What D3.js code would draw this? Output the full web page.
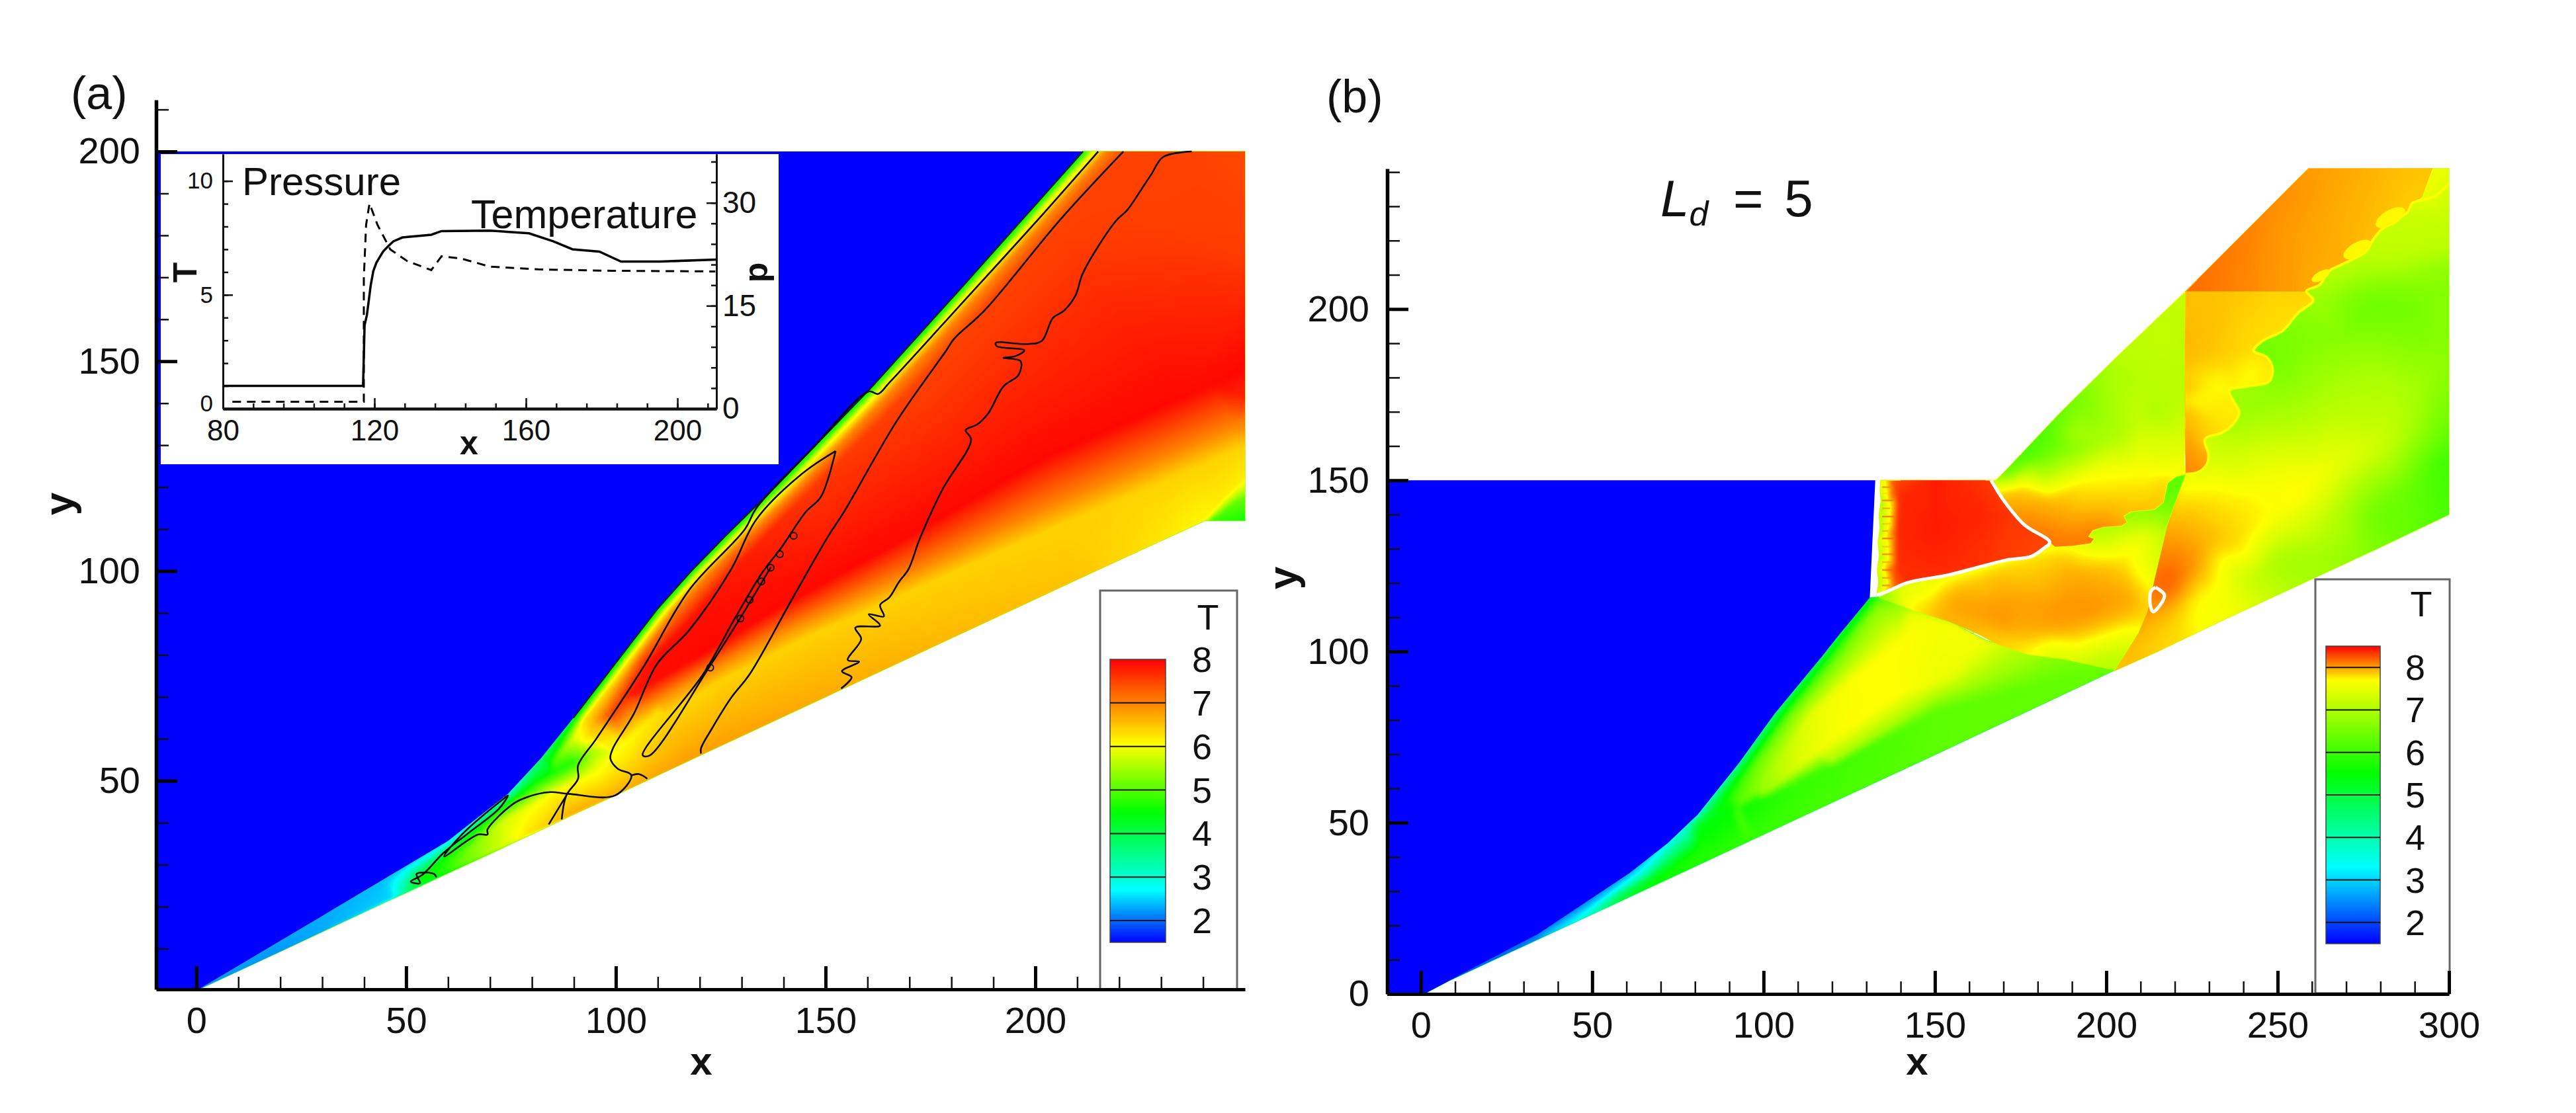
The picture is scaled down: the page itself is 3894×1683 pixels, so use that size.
<!DOCTYPE html>
<html>
<head>
<meta charset="utf-8">
<script src="https://cdn.jsdelivr.net/npm/d3@7"></script>
<style>
  html, body { margin: 0; padding: 0; background: #fff; }
  svg { display: block; }
  text { font-family: "Liberation Sans", Arial, sans-serif; fill: #111; }
</style>
</head>
<body>
<div id="chart"></div>
<script>
// colour legends, T level -> colour
const stopsA = [1.5, 2.7, 4.5, 6.05, 8];
const stopsB = [1.5, 3.3, 5.5, 7.7, 8.5];
const rainbow = ["#0000ff", "#00ffff", "#00ff00", "#ffff00", "#ff0000"];
const legendLevelsA = [2, 3, 4, 5, 6, 7, 8];
const legendLevelsB = [2, 3, 4, 5, 6, 7, 8];

// inset profile at the wedge surface
const insetT = [[80,1],[117,1],[117.4,3.67],[118,4.1],[118.5,4.74],[119,5.4],[119.7,6.04],[120.5,6.4],[121.3,6.63],[122.3,6.9],[123.6,7.13],[125,7.35],[127.4,7.52],[135,7.64],[137.7,7.8],[150.5,7.82],[160.8,7.7],[167.2,7.35],[172.3,7],[179.4,6.9],[185.1,6.46],[195.4,6.46],[210.3,6.55]];
const insetP = [[82.5,1],[117.2,1],[117.2,19],[117.8,26.8],[118.7,29.9],[120.8,26.8],[124.2,23.2],[128.7,21.5],[135,20.2],[137.7,22.2],[142.8,21.9],[150.5,20.7],[163.3,20.3],[182.6,20.1],[210,20]];

// panel (a): x, y, T along the outline of the burnt gas region
const edgeA = [[0,0,2.2],[29.5,17.5,2.3],[59.9,35.6,2.5],[74.3,46.9,3],[82.1,55.3,3.8],[89.9,65,4.2],[101,79.4,4.3],[109.8,90.8,4.3],[118,100,4.4],[126.3,108.5,4.4],[138,120,4.4],[160.7,143.5,4.4],[183.3,168.5,4.4],[211.4,200,4.4],
  [213.9,200,6],[216.9,200,7],[221.4,200,7.5],[237,200,7.5],[250,200,7.45],[250,175,7.55],[250,150,7.95],[250,141,7.7],[250,137,7.2],[250,133,6.8],[250,130,6.4],[250,123,6.2],[250,120,5.8],[250,118,5.2],[250,112,4.6],[242,112,4.8],
  [240.4,112,6.1],[210,98,6.5],[180,84,6.6],[150,70,6.7],[120,56,6.8],[100,46.6,6.7],[90,42,6.7],[80,37.3,6.3],[70,32.6,5.6],[60,28,4.8],[50,23.3,3.6],[46,21.5,2.5],[20,9.3,2.2]];

// panel (a): lines of roughly equal T inside that region
const bandsA = [
  [[85.5,55,5],[89.5,60,5.8],[92.5,65,6.3],[103,79.4,6],[111.8,90.8,6],[120.2,100,6],[128.7,108.5,6],[140.5,120,6],[163.2,143.5,6],[185.8,168.5,6],[213.9,200,6]],
  [[93,60,6.2],[95.5,65,6.8],[105.5,79.4,7.1],[114,90.8,7],[122.5,100,7],[131.3,108.5,7],[143.5,120,7],[166.2,143.5,7],[188.8,168.5,7],[216.9,200,7]],
  [[99,66,7.5],[107.5,78,7.9],[118.5,89,7.9],[129.5,102,7.8],[145,118,7.6],[170.7,143.5,7.5],[193.3,168.5,7.5],[221.4,200,7.5]],
  [[104,71,7.9],[120,80,7.95],[138,91,7.95],[165.2,106,7.95],[201.5,126.8,7.95],[250,148,7.95]],
  [[108,68,6.9],[120,75.5,7],[139.7,86,7],[174.3,102,7],[201.5,115,7],[250,136,7]],
  [[112,66,6.35],[125,74,6.4],[147,85,6.4],[174.3,97,6.4],[201.5,109,6.4],[250,130,6.4]],
  [[62,31,5],[73,40.5,5.8],[85,47,6.1],[95,52,6],[102,59,6.05],[110,66.5,6.3]],
  [[47,22.2,2.6],[53.3,26.4,4.6],[62.2,34.4,4.6],[73.2,44,4.6],[81,49.7,4.6],[89.8,54.5,4.7],[94.3,56.9,5.5]],
  [[240.4,112,6.1],[245,117.5,6.2],[250,123,6.2]],
  [[241.5,112,5],[246,115,5],[250,118,5.2]]
];

// panel (a): solid black T contours
const contoursA = [
  [[215,200],[201.5,184.7],[183.4,164.8],[165.2,144.9],[162.5,142.2],[160.3,142.8],[147.1,129.5],[133.5,115],[130.8,110],[117.5,95.5],[106.5,77],[95.4,60.1],[91,53.7],[91,50.5],[88.2,46.5],[87.1,40.8]],
  [[88.2,46.5],[84,39.6]],
  [[221,200],[206,183.8],[187.9,162.1],[180.6,155.3],[178.8,152.6],[167,135.8],[154.4,114.1],[150.7,108.4],[141.9,93.1],[131.9,75.4],[127.5,69.8],[123,62.6],[120.3,57.7],[120.3,56.5]],
  [[152.4,128.6],[144.4,123.2],[133.5,112.3],[127.5,100.4],[117.5,85.9],[109.8,77.8],[104.2,65.8],[99.3,57.7],[98.7,55.3],[100.4,52.9],[103.7,51.3],[99.8,46.5],[88.7,46.9],[84.3,47.3],[78.8,46.1],[75.5,44.5],[69.4,38.4],[69.4,37.2],[67.1,37.2],[59.1,32],[63.3,37.2],[73.2,45.7],[74.3,46.5],[72.1,43.3],[64.4,37.2],[58.9,32.8],[53.9,27.6],[51.1,26],[53.3,25.6],[52.5,27.8],[56.7,27.8],[57.2,27]],
  [[103.7,51.3],[105.5,51.6],[107.5,50.5]],
  [[152.4,128.6],[148.9,117.7],[145.3,114.1],[139.4,105.5],[134.9,99.6],[128.6,89.1],[120.8,75.4],[106.4,56.1],[108,56],[122.2,77],[131,91],[137,101]],
  [[237.3,200],[230.5,198.7],[227.7,194.6],[225.9,191.9],[221.9,186],[219.1,183.3],[211.4,171.1],[209.6,165.7],[206.9,162.1],[204.2,160.3],[201.5,154.8],[197.9,154.1],[190.6,154.4],[190.8,153.6],[197.4,152.6],[195.2,151.2],[192.4,150.8],[196.5,150],[196,146.7],[192.4,144],[188.8,137.6],[186.1,134.9],[183.4,133.6],[184.7,131.3],[177.9,119.5],[172.5,107.8],[169.8,100.5],[167.5,97.4],[165.2,93.7],[163,91.9],[163.9,89.2],[160.3,89.7],[163,87],[157.1,86.5],[158.5,83.8],[155.3,78.8],[158,78.4],[153.9,76.1],[156.2,74.7],[153.7,72]]
];
const eddiesA = [[122.5,77],[129.7,88.7],[131.9,93.1],[134.7,97.5],[136.9,100.8],[139.1,104],[142.4,108.4]];

// panel (b) outlines: shock, reflected shock d1, d2, slip line
const edgeConeB = [[1.5,0.3,2],[34.2,17.5,2.1],[60.9,35.3,2.6],[72.1,44.1,3.2],[80.8,52.4,3.8],[92.8,67.4,4.2],[103.2,81.8,4.5],[117,98.5,4.8],[122,104.8,5],[131,115.7,5.2],[133.8,115.9,6],[143.9,111.9,7.5],[154.2,108.7,7.65],[164.8,103.3,7.55],[177.4,99.1,6.9],[187.7,97.8,6.6],[202.5,94.6,6.4],[150,69.9,6.3],[100,46.6,6],[70,32.6,5.7],[55,25.6,4.8],[45,21,3.2],[30,14,2.4],[1.5,0.7,2.2]];
const bandsConeB = [
  [[83,52.4,4.9],[95.3,67.4,5.5],[105.7,81.8,5.7],[119.5,98.5,5.9],[130,111,6.2]],
  [[85.5,52,5.4],[97.8,67.4,6.4],[108.2,81.8,6.5],[122,98.5,6.5],[133,113,6.7]],
  [[92,54,6.3],[104,67.4,7.1],[114,81.8,7.5],[127,93,7.7],[140,103,7.7]],
  [[100,58,6.8],[112,68,7.5],[125,78,7.7],[140,88,7.7],[155,93,7.5],[162,101,7.6]],
  [[120,67,6.8],[140,80,6.9],[150,87,7],[175,95.5,6.8]],
  [[80.8,49.7,5.3],[108.4,60.8,5.9],[151.5,83,6.3],[199.7,95,6.35]],
  [[35,17.5,2.8],[50,25.5,3.3],[65,36,3.5],[75,45,4]],
  [[48,22.8,3.5],[58,28.5,5],[70,35,5.5],[80.8,42,5.7]]
];
const edgeRedB = [[134.2,150,7.4],[137,150,8.25],[150,150,8.42],[166.4,150,8.32],[170.3,143.8,8.32],[176.1,137,8.32],[183.5,131.9,8.28],[181.6,130,8.28],[178,127.7,8.28],[170.9,126.7,8.32],[164.5,125.1,8.34],[153.8,122.3,8.36],[142,120.1,8.36],[136,117.5,8.1],[133,116.5,7.3],[133.6,120,7],[133.2,124,7.2],[133.8,128,7],[133.4,132,7.3],[134,136,6.8],[133.7,140,7],[134.3,144,6.8],[134,147,7.3]];
const innerRedB = [[136,125,8],[136.3,135,7.9],[136.5,145,7.95],[138,149,8.25],[139,125,8.36],[139,135,8.38],[139.5,145,8.38],[150,135,8.42],[165,140,8.38],[170,130,8.32]];
// y, x where the streak ends, T
const streaksRedB = [[148,137.4,8.1],[146.2,136.6,7.8],[144.1,137.8,8.15],[141.8,136.9,8],[139.4,138.1,8.2],[137.3,137,7.9],[135.2,136.4,8],[133,137.9,8.2],[130.6,137.2,7.9],[128.4,138.3,8.15],[126.1,137.4,8],[123.8,138.4,8.2],[121.5,137.6,8.05],[119.3,136.9,8.1]];
const edgeShearB = [[133.8,115.9,6],[142,119.8,7.3],[153.8,122,7.75],[164.5,124.9,7.82],[170.9,126.5,7.85],[178,127.5,7.8],[181.6,129.8,7.75],[183.5,131.6,7.75],[185.1,130.6,7.75],[190.2,130.9,7.75],[195.4,131.6,7.4],[196.4,132.9,7],[194.7,133.5,7.2],[196,135.4,7],[199.2,136.4,7],[204.4,136.7,7],[206,137.7,6.9],[205,139.6,7],[207.3,140.9,6.8],[214,141.5,6.6],[216.6,143.5,6.4],[217.3,146.7,6.3],[217.9,149.3,6.2],[220.5,151.2,6.2],[223.2,151.8,6.2],[217.9,137,6.8],[214.1,121,7.6],[212.1,111.9,7.7],[209.5,105.5,7.6],[202.5,94.6,6.9],[187.7,97.8,7.1],[177.4,99.1,7.6],[168.4,102,7.7],[163.2,104.8,7.85],[154.2,108.7,7.95],[143.9,111.9,7.85]];
const innerShearB = [[217.3,142.2,6.6],[209.5,138.3,6.95],[199.9,134.5,7.1],[196.7,130,7.6],[209.5,132.5,7.7],[216,134.5,7.5],[190.2,124.2,7.95],[203.1,125.5,7.88],[170.9,115.8,8],[183.8,112.6,8.02],[196.7,112.6,8.05],[209.5,114.5,7.98],[170.9,106.2,8.05],[183.8,106.2,8],[196.7,106.2,7.9],[209.5,108.7,7.8],[177.4,101,7.75],[190.2,99.7,7.6],[199.9,100.4,7.35],[206.3,103,7.4],[138.1,116.4,7.6],[141.3,115.1,7.9],[154.2,115.1,8],[167,110,8.05],[173.5,104.8,7.95],[173.5,122.8,7.85],[154.2,119,7.85]];
const edgeFanB = [[167.8,150,7],[171,153.2,5.8],[187,170.2,6.3],[203.1,186,7.1],[223.2,205.2,7.2],[223.2,190,7.1],[223.2,175,7.1],[223,165,7.3],[222.7,155,7.6],[223.2,151.8,7.5],[220.5,151.2,7.75],[217.9,149.3,7.85],[217.3,146.7,7.85],[216.6,143.5,7.85],[214,141.5,7.9],[207.3,140.9,7.9],[205,139.6,7.9],[206,137.7,7.95],[204.4,136.7,8],[199.2,136.4,8.05],[196,135.4,8.1],[194.7,133.5,8.1],[196.4,132.9,8.12],[195.4,131.6,8.12],[190.2,130.9,8.14],[185.1,130.6,8.14],[183.5,131.9,8.14],[176.1,137,8.1],[170.3,143.8,7.95],[166.4,150,7.75]];
const innerFanB = [[174.2,148,7.85],[174.2,149.6,7.68],[196.7,152.5,7.65],[209.5,153.1,7.68],[221.1,152.5,7.7],[183.8,144.8,7.9],[190.2,138.3,8],[203.1,144.8,7.85],[209.5,151.2,7.72],[216,154.4,7.55],[190.2,158.9,6.7],[180.6,157,6.4],[203.1,162.8,7],[209.5,167.3,7.2],[221.1,168.6,7.2],[222.4,160.9,7.4],[190.2,164,6.9],[212.8,169.8,7],[216,192.3,7.2],[214,179.5,7.1]];
const edgeMidB = [[223.2,205.2,7.9],[258.4,205.2,7.84],[260.4,202.6,7.8],[255.9,198.8,7.8],[251.4,193.6,7.8],[245.6,190.7,7.8],[243,187.8,7.8],[246.9,185.9,7.78],[248.5,182.7,7.78],[247.5,178.8,7.75],[241.7,177.5,7.72],[235.9,176.2,7.72],[237.2,173,7.75],[238.8,169.8,7.75],[237.2,166.6,7.75],[234,164,7.78],[228.8,162,7.85],[229.8,157.6,7.95],[229.5,155,8],[226.9,152.4,8.05],[223.2,151.8,8.1],[223,165,8],[223,175,7.85],[223,190,7.93]];
const innerMidB = [[228.8,192.3,7.9],[235.3,185.9,7.85],[241.7,182,7.7],[232,178.2,7.7],[223.7,173.7,7.72],[223.7,176.2,7.95],[223.7,166.6,7.9],[223.7,153.7,8.08],[232,166.6,7.8],[227.6,155,8],[248.2,203.9,7.83]];
const edgeTopB = [[223.2,205.2,8.17],[259,241,8.02],[280,241,7.93],[295,241,7.88],[292,232.9,7.85],[289.3,230.9,7.85],[288,228.4,7.85],[280.3,223.2,7.9],[277.7,220,7.9],[275.8,216.8,7.9],[270,213.6,7.95],[264.9,211,7.95],[262.3,207.1,7.95],[258.4,205.2,7.98]];
const innerTopB = [[241,215,8.08],[250,225,8.03],[270,230,7.95]];
const edgeRightB = [[202.5,94.4,7.9],[215,100,7.85],[235,109.6,7.65],[257,119.8,7],[279,130,6.6],[300,140,6.1],[300,154,6],[300,175,6.6],[300,200,6.7],[300,214,6.7],[300,217,7.15],[300,236.7,7.2],[300,241,7.6],[295,241,7.7],[292,232.9,7.7],[289.3,230.9,7.25],[288,228.4,7.25],[280.3,223.2,7.15],[277.7,220,7.15],[275.8,216.8,7.15],[270,213.6,7.1],[264.9,211,7.1],[262.3,207.1,7.1],[258.4,205.2,6.9],[260.4,202.6,6.9],[255.9,198.8,6.7],[251.4,193.6,6.6],[245.6,190.7,6.5],[243,187.8,6.5],[246.9,185.9,6.5],[248.5,182.7,6.5],[247.5,178.8,6.7],[241.7,177.5,6.9],[235.9,176.2,6.9],[237.2,173,6.8],[238.8,169.8,6.8],[237.2,166.6,6.9],[234,164,7.1],[228.8,162,7.3],[229.8,157.6,7.3],[229.5,155,7.4],[226.9,152.4,7.4],[223.2,151.8,7.6],[217.9,137,7.95],[214.1,121,8.2],[212.1,111.9,8.05],[209.5,105.5,7.9]];
const innerRightB = [[216,120.3,8.25],[219.2,119,8.22],[220,125,8.15],[222,130,8.05],[226,136,7.92],[232,141,7.82],[225.6,125.5,8.05],[228.9,131.9,7.95],[235.3,135.1,7.85],[223.7,139.6,7.9],[225.6,144.8,7.8],[232.1,148.6,7.7],[223.7,151.2,7.65],[219.2,109.4,7.85],[212.8,102.9,7.85],[225.6,113.9,7.7],[232.1,117.1,7.65],[240.4,122.2,7.2],[228.9,109.4,7.6],[241,113.2,7.5],[240.4,131.9,7.8],[235.3,119,7.6],[241.7,125.5,7.65],[225.6,138.3,7.9],[235.3,141.5,7.8],[240.4,144.8,7.75],[248.1,153.7,7.55],[267.4,155,7.55],[235.3,156.9,7.3],[230.8,151.1,7.65],[254.6,144,7.8],[280.3,160.1,7.3],[280.3,179.4,7],[267.4,173,7.05],[293.2,179.4,6.85],[296.4,153.7,6],[254.6,191,6.55],[273.9,200,6.4],[241.7,166.6,7],[248.1,173,6.8],[267.4,192.3,6.65],[300,198.8,6.55],[261,203.9,6.7],[280.3,213.6,7.15],[280.3,209,6.75],[280.3,202,6.4],[267.4,210.3,7.1],[267.4,205.2,6.75],[300,205,6.4],[279.3,140.6,6.4],[249.8,126.2,6.9],[294,151.7,6.2],[286.7,146.2,6.4],[264.6,140.6,7.2],[249.8,140.6,7.7],[264.6,129.5,6.9]];

// panel (b): white T=8 contours, slip line, roll-ups
const contoursB = [
  [[166.4,150],[170.3,143.8],[176.1,137],[183.5,131.9],[181.6,130],[178,127.7],[170.9,126.7],[164.5,125.1],[153.8,122.3],[142,120.1],[136,117.5],[133,116.5]],
  [[214.4,118.7],[217,116.4],[213.7,111.6],[212.8,113.9],[213.1,117.7],[214.4,118.7]]
];
const slipB = [[223.2,151.8],[226.9,152.4],[229.5,155],[229.8,157.6],[228.8,162],[234,164],[237.2,166.6],[238.8,169.8],[237.2,173],[235.9,176.2],[241.7,177.5],[247.5,178.8],[248.5,182.7],[246.9,185.9],[243,187.8],[245.6,190.7],[251.4,193.6],[255.9,198.8],[260.4,202.6],[258.4,205.2],[262.3,207.1],[264.9,211],[270,213.6],[275.8,216.8],[277.7,220],[280.3,223.2],[288,228.4],[289.3,230.9],[295.8,232.9],[300,236.7]];
const vorticesB = [[282.9,226.7,4.8,2.2],[273.2,217.4,4.5,2],[262.6,209.7,3,1.3]];

// axis ticks
const majorXA = [0, 50, 100, 150, 200];
const minorXA = [10,20,30,40,60,70,80,90,110,120,130,140,160,170,180,190,210,220,230,240];
const majorYA = [50, 100, 150, 200];
const minorYA = [10,20,30,40,60,70,80,90,110,120,130,140,160,170,180,190,210];
const majorXB = [0, 50, 100, 150, 200, 250, 300];
const minorXB = [10,20,30,40,60,70,80,90,110,120,130,140,160,170,180,190,210,220,230,240,260,270,280,290];
const majorYB = [0, 50, 100, 150, 200];
const minorYB = [10,20,30,40,60,70,80,90,110,120,130,140,160,170,180,190,210,220,230,240];

const svg = d3.select("#chart").append("svg").attr("width", 3894).attr("height", 1683);
const defs = svg.append("defs");
let clipCount = 0;

function makeLut(stops) {
  const scale = d3.scaleLinear().domain(stops).range(rainbow).clamp(true);
  const table = [];
  for (let i = 0; i < 1024; i++) {
    table.push(d3.rgb(scale(1.5 + 7 * i / 1023)));
  }
  return { scale, table };
}

// put extra mesh vertices along a polyline so Delaunay stays between neighbouring bands
function densify(line, step, closed) {
  const pts = closed ? line.concat([line[0]]) : line;
  const out = [];
  for (let i = 0; i < pts.length - 1; i++) {
    const a = pts[i], b = pts[i + 1];
    const n = Math.max(1, Math.ceil(Math.hypot(b[0] - a[0], b[1] - a[1]) / step));
    for (let k = 0; k < n; k++) {
      const f = k / n;
      out.push([a[0] + (b[0] - a[0]) * f, a[1] + (b[1] - a[1]) * f, a[2] + (b[2] - a[2]) * f]);
    }
  }
  if (!closed) out.push(pts[pts.length - 1]);
  return out;
}

// masked box blur of the T raster, takes the facets out of the mesh
function blurRuns(values, mask, runs, len, offset, r) {
  const sum = new Float64Array(len + 1);
  const cnt = new Float64Array(len + 1);
  const src = new Float32Array(values);
  for (let run = 0; run < runs; run++) {
    for (let i = 0; i < len; i++) {
      const o = offset(run, i);
      sum[i + 1] = sum[i] + (mask[o] ? src[o] : 0);
      cnt[i + 1] = cnt[i] + mask[o];
    }
    for (let i = 0; i < len; i++) {
      const o = offset(run, i);
      if (!mask[o]) continue;
      const a = Math.max(0, i - r), b = Math.min(len, i + r + 1);
      values[o] = (sum[b] - sum[a]) / (cnt[b] - cnt[a]);
    }
  }
}

function smoothField(values, mask, w, h, r) {
  for (let pass = 0; pass < 3; pass++) {
    blurRuns(values, mask, h, w, (y, i) => y * w + i, r);
    blurRuns(values, mask, w, h, (x, i) => i * w + x, r);
  }
}

function drawRegion(layer, sx, sy, lut, edge, bands, inner, blur) {
  let verts = densify(edge, 1.5, true).concat(inner);
  bands.forEach((l) => { verts = verts.concat(densify(l, 1.5, false)); });
  const px = verts.map((v) => sx(v[0]));
  const py = verts.map((v) => sy(v[1]));
  const x0 = Math.floor(d3.min(px)) - 1, y0 = Math.floor(d3.min(py)) - 1;
  const w = Math.ceil(d3.max(px)) + 2 - x0, h = Math.ceil(d3.max(py)) + 2 - y0;
  const canvas = document.createElement("canvas");
  canvas.width = w; canvas.height = h;
  const ctx = canvas.getContext("2d");
  const img = ctx.createImageData(w, h);
  const values = new Float32Array(w * h);
  const mask = new Uint8Array(w * h);
  const tri = d3.Delaunay.from(verts, (v) => sx(v[0]), (v) => sy(v[1])).triangles;
  for (let t = 0; t < tri.length; t += 3) {
    const a = tri[t], b = tri[t + 1], c = tri[t + 2];
    const ax = px[a] - x0, ay = py[a] - y0, bx = px[b] - x0, by = py[b] - y0, cx = px[c] - x0, cy = py[c] - y0;
    const det = (by - cy) * (ax - cx) + (cx - bx) * (ay - cy);
    if (Math.abs(det) < 1e-9) continue;
    const xa = Math.floor(Math.min(ax, bx, cx)), xb = Math.ceil(Math.max(ax, bx, cx));
    const ya = Math.floor(Math.min(ay, by, cy)), yb = Math.ceil(Math.max(ay, by, cy));
    for (let y = ya; y <= yb; y++) {
      for (let x = xa; x <= xb; x++) {
        const l1 = ((by - cy) * (x - cx) + (cx - bx) * (y - cy)) / det;
        const l2 = ((cy - ay) * (x - cx) + (ax - cx) * (y - cy)) / det;
        const l3 = 1 - l1 - l2;
        if (l1 < -0.02 || l2 < -0.02 || l3 < -0.02) continue;
        if (x < 0 || y < 0 || x >= w || y >= h) continue;
        const o = y * w + x;
        values[o] = l1 * verts[a][2] + l2 * verts[b][2] + l3 * verts[c][2];
        mask[o] = 1;
      }
    }
  }
  smoothField(values, mask, w, h, blur);
  for (let o = 0; o < values.length; o++) {
    if (!mask[o]) continue;
    const col = lut.table[Math.max(0, Math.min(1023, Math.round((values[o] - 1.5) / 7 * 1023)))];
    img.data[o * 4] = col.r; img.data[o * 4 + 1] = col.g; img.data[o * 4 + 2] = col.b; img.data[o * 4 + 3] = 255;
  }
  ctx.putImageData(img, 0, 0);

  const outline = d3.line().x((d) => sx(d[0])).y((d) => sy(d[1]));
  const id = "region-" + (clipCount++);
  defs.append("clipPath").attr("id", id).append("path").attr("d", outline(edge) + "Z");
  const mean = lut.scale(d3.mean(edge, (d) => d[2]));
  layer.append("path").attr("d", outline(edge) + "Z")
    .attr("fill", mean).attr("stroke", mean).attr("stroke-width", 1.4);
  layer.append("image")
    .attr("x", x0).attr("y", y0).attr("width", w).attr("height", h)
    .attr("href", canvas.toDataURL())
    .attr("clip-path", `url(#${id})`);
}

function drawAxes(sx, sy, majorX, minorX, majorY, minorY, padY) {
  const gx = svg.append("g").attr("transform", `translate(0,${sy.range()[0]})`);
  gx.append("g").call(d3.axisBottom(sx).tickValues(minorX).tickFormat("").tickSize(-19).tickSizeOuter(0))
    .call((g) => g.selectAll("line").attr("stroke", "#111").attr("stroke-width", 2.5))
    .call((g) => g.select(".domain").remove());
  gx.append("g").call(d3.axisBottom(sx).tickValues(majorX).tickSize(-35).tickSizeOuter(0).tickPadding(26))
    .call((g) => g.selectAll("line").attr("stroke", "#000").attr("stroke-width", 5))
    .call((g) => g.select(".domain").attr("stroke", "#000").attr("stroke-width", 5))
    .call((g) => g.selectAll("text").attr("font-size", 56).style("font-family", "Liberation Sans"));
  const gy = svg.append("g").attr("transform", `translate(${sx.range()[0]},0)`);
  gy.append("g").call(d3.axisLeft(sy).tickValues(minorY).tickFormat("").tickSize(-19).tickSizeOuter(0))
    .call((g) => g.selectAll("line").attr("stroke", "#111").attr("stroke-width", 2.5))
    .call((g) => g.select(".domain").remove());
  gy.append("g").call(d3.axisLeft(sy).tickValues(majorY).tickSize(-32).tickSizeOuter(0).tickPadding(padY))
    .call((g) => g.selectAll("line").attr("stroke", "#000").attr("stroke-width", 5))
    .call((g) => g.select(".domain").attr("stroke", "#000").attr("stroke-width", 5.5))
    .call((g) => g.selectAll("text").attr("font-size", 56).style("font-family", "Liberation Sans"));
}

function drawLegend(box, bar, labelX, lut, levels, stops, top, id) {
  svg.append("rect").attr("x", box[0]).attr("y", box[1]).attr("width", box[2]).attr("height", box[3])
    .attr("fill", "#fff").attr("stroke", "#666").attr("stroke-width", 3);
  const sT = d3.scaleLinear().domain([1.5, top]).range([bar[1] + bar[3], bar[1]]);
  const grad = defs.append("linearGradient").attr("id", id).attr("x1", 0).attr("x2", 0).attr("y1", 1).attr("y2", 0);
  stops.forEach((s, i) => {
    grad.append("stop").attr("offset", (s - 1.5) / (top - 1.5)).attr("stop-color", rainbow[i]);
  });
  svg.append("rect").attr("x", bar[0]).attr("y", bar[1]).attr("width", bar[2]).attr("height", bar[3])
    .attr("fill", `url(#${id})`).attr("stroke", "#444").attr("stroke-width", 1.5);
  svg.selectAll(null).data(levels.filter((d) => d < top)).join("line")
    .attr("x1", bar[0]).attr("x2", bar[0] + bar[2]).attr("y1", sT).attr("y2", sT)
    .attr("stroke", "#111").attr("stroke-width", 2);
  svg.selectAll(null).data(levels).join("text")
    .attr("x", labelX).attr("y", (d) => sT(d) + 19)
    .attr("text-anchor", "middle").attr("font-size", 54).text((d) => d);
  svg.append("text").attr("x", labelX + 9).attr("y", bar[1] - 45)
    .attr("text-anchor", "middle").attr("font-size", 54).text("T");
}

/* ---------- panel (a) ---------- */
const xA = d3.scaleLinear().domain([-9.6, 250]).range([236, 1882]);
const yA = d3.scaleLinear().domain([0.3, 212.3]).range([1496, 151]);
const lutA = makeLut(stopsA);
const lineA = d3.line().x((d) => xA(d[0])).y((d) => yA(d[1]));
const smoothA = d3.line().x((d) => xA(d[0])).y((d) => yA(d[1])).curve(d3.curveCatmullRom.alpha(0.5));
const fieldA = svg.append("g");
drawRegion(fieldA, xA, yA, lutA, edgeA, bandsA, [], 2);

const shockA = edgeA.slice(0, 14);
fieldA.append("path")
  .attr("d", lineA([[-9.6, 200]].concat(shockA.slice().reverse(), [[-9.6, 0.3]])) + "Z")
  .attr("fill", "#0000ff");
fieldA.append("path").attr("d", lineA(shockA.slice(5))).attr("fill", "none").attr("stroke", "#102010").attr("stroke-width", 2);

svg.append("g").selectAll("path").data(contoursA).join("path")
  .attr("d", smoothA).attr("fill", "none").attr("stroke", "#0a0a0a").attr("stroke-width", 2.6).attr("stroke-linejoin", "round");
svg.append("g").selectAll("circle").data(eddiesA).join("circle")
  .attr("cx", (d) => xA(d[0])).attr("cy", (d) => yA(d[1])).attr("r", 5)
  .attr("fill", "none").attr("stroke", "#0a0a0a").attr("stroke-width", 2);

// inset
svg.append("rect").attr("x", 243).attr("y", 233).attr("width", 934).attr("height", 469).attr("fill", "#fff");
const xI = d3.scaleLinear().domain([80, 210.3]).range([337, 1083]);
const tI = d3.scaleLinear().domain([0, 11.18]).range([618, 233]);
const pI = d3.scaleLinear().domain([0, 37.1]).range([618, 233]);
const inset = svg.append("g");
const insetStyle = (size) => (g) => {
  g.selectAll("line").attr("stroke", "#111").attr("stroke-width", 2.5);
  g.select(".domain").attr("stroke", "#111").attr("stroke-width", 2.8);
  g.selectAll("text").attr("font-size", size).style("font-family", "Liberation Sans");
};
inset.append("g").attr("transform", "translate(0,618)")
  .call(d3.axisBottom(xI).tickValues(d3.range(88, 210, 8)).tickFormat("").tickSize(-8).tickSizeOuter(0)).call(insetStyle(44));
inset.append("g").attr("transform", "translate(0,618)")
  .call(d3.axisBottom(xI).tickValues([80, 120, 160, 200]).tickSize(-16).tickSizeOuter(0).tickPadding(17)).call(insetStyle(44))
  .call((g) => g.select(".domain").attr("stroke-width", 4.5));
inset.append("g").attr("transform", "translate(337,0)")
  .call(d3.axisLeft(tI).tickValues(d3.range(1, 11)).tickFormat("").tickSize(-8).tickSizeOuter(0)).call(insetStyle(35));
inset.append("g").attr("transform", "translate(337,0)")
  .call(d3.axisLeft(tI).tickValues([0, 5, 10]).tickSize(-15).tickSizeOuter(0).tickPadding(15)).call(insetStyle(35))
  .call((g) => g.selectAll("text").filter((d) => d === 0).attr("dy", "0.1em"));
inset.append("g").attr("transform", "translate(1083,0)")
  .call(d3.axisRight(pI).tickValues(d3.range(3, 37, 3)).tickFormat("").tickSize(-8).tickSizeOuter(0)).call(insetStyle(46));
inset.append("g").attr("transform", "translate(1083,0)")
  .call(d3.axisRight(pI).tickValues([0, 15, 30]).tickSize(-15).tickSizeOuter(0).tickPadding(9)).call(insetStyle(46));
inset.append("path").attr("d", d3.line().x((d) => xI(d[0])).y((d) => tI(d[1]))(insetT))
  .attr("fill", "none").attr("stroke", "#000").attr("stroke-width", 3.5);
inset.append("path").attr("d", d3.line().x((d) => xI(d[0])).y((d) => pI(d[1]))(insetP))
  .attr("fill", "none").attr("stroke", "#000").attr("stroke-width", 3).attr("stroke-dasharray", "13 9");
inset.append("text").attr("x", 366).attr("y", 295).attr("font-size", 60).text("Pressure");
inset.append("text").attr("x", 712).attr("y", 345).attr("font-size", 61).text("Temperature");
inset.append("text").attr("x", 709).attr("y", 687).attr("text-anchor", "middle").attr("font-size", 50).attr("font-weight", 700).text("x");
inset.append("text").attr("transform", "translate(297,412) rotate(-90)").attr("text-anchor", "middle").attr("font-size", 50).attr("font-weight", 700).text("T");
inset.append("text").attr("transform", "translate(1160,412) rotate(-90)").attr("text-anchor", "middle").attr("font-size", 50).attr("font-weight", 700).text("p");

drawLegend([1663, 893, 207, 603], [1678, 997, 84, 428], 1817, lutA, legendLevelsA, stopsA, 8, "legend-a");
drawAxes(xA, yA, majorXA, minorXA, majorYA, minorYA, 24);

svg.append("text").attr("x", 1060).attr("y", 1625).attr("text-anchor", "middle").attr("font-size", 60).attr("font-weight", 700).text("x");
svg.append("text").attr("transform", "translate(110,762) rotate(-90)").attr("text-anchor", "middle").attr("font-size", 62).attr("font-weight", 700).text("y");
svg.append("text").attr("x", 107).attr("y", 165).attr("font-size", 70).text("(a)");

/* ---------- panel (b) ---------- */
const xB = d3.scaleLinear().domain([-9.8, 300]).range([2097, 3702]);
const yB = d3.scaleLinear().domain([0, 241]).range([1503, 255]);
const lutB = makeLut(stopsB);
const lineB = d3.line().x((d) => xB(d[0])).y((d) => yB(d[1]));
const smoothB = d3.line().x((d) => xB(d[0])).y((d) => yB(d[1])).curve(d3.curveCatmullRom.alpha(0.5));
const fieldB = svg.append("g");
drawRegion(fieldB, xB, yB, lutB, edgeConeB, bandsConeB, [], 4);
drawRegion(fieldB, xB, yB, lutB, edgeShearB, [], innerShearB, 12);
drawRegion(fieldB, xB, yB, lutB, edgeRightB, [], innerRightB, 12);
drawRegion(fieldB, xB, yB, lutB, edgeFanB, [], innerFanB, 8);
drawRegion(fieldB, xB, yB, lutB, edgeMidB, [], innerMidB, 8);
drawRegion(fieldB, xB, yB, lutB, edgeTopB, [], innerTopB, 10);
drawRegion(fieldB, xB, yB, lutB, edgeRedB, [], innerRedB, 3);

// streaky left side of the hot pocket
fieldB.append("g").selectAll("line").data(streaksRedB).join("line")
  .attr("x1", xB(134.6)).attr("x2", (d) => xB(d[1]))
  .attr("y1", (d) => yB(d[0])).attr("y2", (d) => yB(d[0]))
  .attr("stroke", (d) => lutB.scale(d[2])).attr("stroke-width", 2.5).attr("stroke-opacity", 0.75);

fieldB.append("path")
  .attr("d", lineB([[-9.8, 150], [132.6, 150]].concat(edgeConeB.slice(0, 10).reverse(), [[-9.8, 0]])) + "Z")
  .attr("fill", "#0000ff");
fieldB.append("path").attr("d", smoothB(slipB)).attr("fill", "none")
  .attr("stroke", lutB.scale(7.68)).attr("stroke-width", 4).attr("stroke-linejoin", "round");
fieldB.append("g").selectAll("ellipse").data(vorticesB).join("ellipse")
  .attr("transform", (d) => `translate(${xB(d[0])},${yB(d[1])}) rotate(-30)`)
  .attr("rx", (d) => xB(d[2]) - xB(0)).attr("ry", (d) => xB(d[3]) - xB(0))
  .attr("fill", lutB.scale(7.72));
svg.append("g").selectAll("path").data(contoursB).join("path")
  .attr("d", smoothB).attr("fill", "none").attr("stroke", "#fff").attr("stroke-width", 5).attr("stroke-linejoin", "round");

drawLegend([3500, 876, 203, 626], [3516, 977, 82, 450], 3651, lutB, legendLevelsB, stopsB, 8.5, "legend-b");
drawAxes(xB, yB, majorXB, minorXB, majorYB, minorYB, 27);

svg.append("text").attr("x", 2898).attr("y", 1625).attr("text-anchor", "middle").attr("font-size", 60).attr("font-weight", 700).text("x");
svg.append("text").attr("transform", "translate(1960,874) rotate(-90)").attr("text-anchor", "middle").attr("font-size", 62).attr("font-weight", 700).text("y");
svg.append("text").attr("x", 2005).attr("y", 170).attr("font-size", 70).text("(b)");
const ld = svg.append("text").attr("x", 2510).attr("y", 327).attr("font-size", 78).attr("word-spacing", 10);
ld.append("tspan").attr("font-style", "italic").text("L");
ld.append("tspan").attr("font-style", "italic").attr("font-size", 52).attr("dy", 14).text("d");
ld.append("tspan").attr("dy", -14).attr("dx", 6).text(" = 5");
</script>
</body>
</html>
